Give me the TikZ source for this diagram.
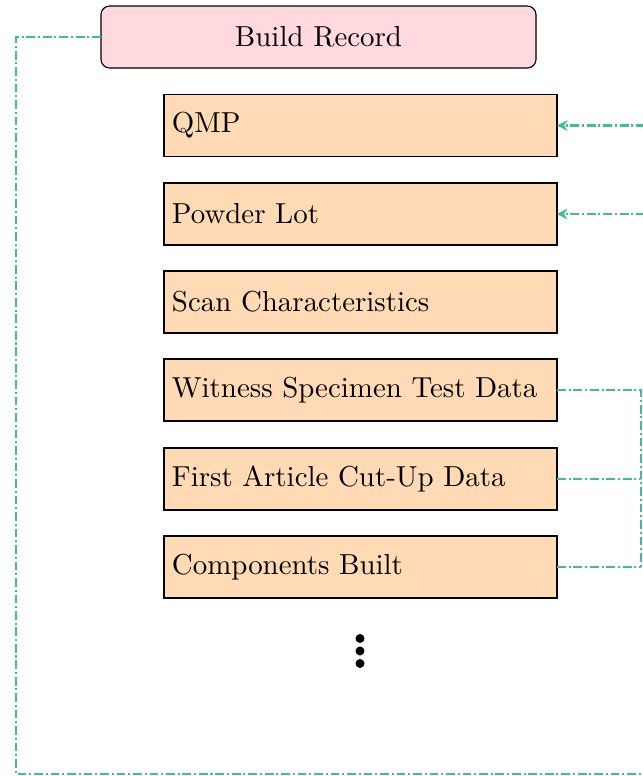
\documentclass[tikz,border=0pt]{standalone}
\usetikzlibrary{arrows.meta}
\definecolor{linkgreen}{RGB}{64,191,140}
\definecolor{recpink}{RGB}{255,217,222}
\definecolor{itempeach}{RGB}{255,218,181}
\newcommand{\pxu}{0.346pt}
\tikzset{
  recbox/.style={draw=black, line width=0.4pt, fill=recpink, rounded corners=3pt,
    minimum width=435*\pxu, minimum height=62*\pxu, outer sep=0pt, inner sep=0pt},
  itembox/.style={draw=black, line width=0.4pt, fill=itempeach,
    minimum height=62*\pxu, text width=377*\pxu, inner xsep=8*\pxu, inner ysep=0pt,
    align=left, outer sep=0pt},
  link/.style={draw=linkgreen, line width=0.7pt, densely dash dot},
  linkarrow/.style={link, -{Stealth[length=3.6pt,width=3.6pt]}},
  dotmark/.style={circle, fill=black, inner sep=0pt, minimum size=9*\pxu}
}
\begin{document}
\begin{tikzpicture}[x=\pxu, y=-\pxu]
\useasboundingbox (0,0) rectangle (643,776);
\node[recbox] (rec) at (318.5,37) {Build Record};
\node[itembox] (qmp) at (360.5,125.5) {QMP};
\node[itembox] (powder) at (360.5,214) {Powder Lot};
\node[itembox] (scan) at (360.5,302) {Scan Characteristics};
\node[itembox] (witness) at (360.5,390) {Witness Specimen Test Data};
\node[itembox] (first) at (360.5,479) {First Article Cut-Up Data};
\node[itembox] (comp) at (360.5,567) {Components Built};
\node[dotmark] (d1) at (360,638.5) {};
\node[dotmark] (d2) at (360,651) {};
\node[dotmark] (d3) at (360,663.5) {};
% loop from Build Record
\coordinate (lc1) at (16,37);
\coordinate (lc2) at (16,774);
\coordinate (lc3) at (645,774);
\draw[link] (rec.west) -- (lc1) -- (lc2) -- (lc3);
% incoming arrows
\coordinate (qin) at (645,125.5);
\coordinate (pin) at (645,214);
\draw[linkarrow] (qin) -- (qmp.east);
\draw[linkarrow] (pin) -- (powder.east);
% bracket on the right
\coordinate (b1) at (641,390);
\coordinate (b2) at (641,479);
\coordinate (b3) at (641,567);
\draw[link] (witness.east) -- (b1) -- (b3);
\draw[link] (first.east) -- (b2);
\draw[link] (comp.east) -- (b3);
\end{tikzpicture}
\end{document}
